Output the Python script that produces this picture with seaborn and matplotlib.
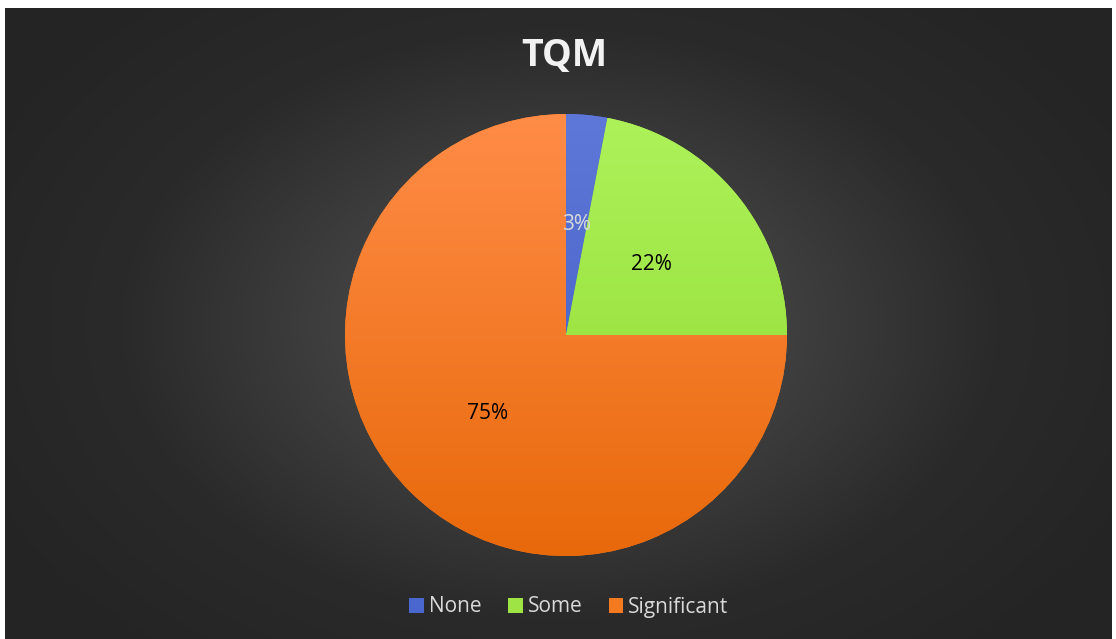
import numpy as np
import matplotlib
matplotlib.use('Agg')
import matplotlib.pyplot as plt
import seaborn as sns
from matplotlib.patches import Patch
from matplotlib.colors import LinearSegmentedColormap

sns.set_theme(style='white')
plt.rcParams['font.family'] = ['Open Sans', 'DejaVu Sans']

# data
categories = ['None', 'Some', 'Significant']
values = [3, 22, 75]
labels_pct = ['3%', '22%', '75%']
colors = ['#4A67CF', '#9DE444', '#F47A1F']
grad_top = ['#5D78D8', '#AEF25A', '#FF8C47']
grad_bot = ['#3F5AC0', '#8DD82E', '#E8690A']
label_colors = ['#D9D9D9', 'black', 'black']

W, H = 1116, 639
fig = plt.figure(figsize=(W / 100, H / 100), dpi=100)
fig.patch.set_facecolor('white')

# dark radial background
bg = fig.add_axes([5 / W, 0, 1107 / W, 631 / H])
yy, xx = np.mgrid[0:300, 0:540]
cx, cy = 270, 150
r = np.sqrt(((xx - cx) / 320) ** 2 + ((yy - cy) / 210) ** 2)
r = np.clip(r, 0, 1)
cmap_bg = LinearSegmentedColormap.from_list('bg', ['#4C4C4C', '#404040', '#2A2A2A', '#242424'])
bg.imshow(r, cmap=cmap_bg, aspect='auto', extent=[0, 1, 0, 1], vmin=0, vmax=1)
bg.set_axis_off()

# pie
r_px = 221
cx_px, cy_px = 566, 639 - 335
ax = fig.add_axes([(cx_px - r_px) / W, (cy_px - r_px) / H, 2 * r_px / W, 2 * r_px / H])
ax.set_facecolor('none')
wedges, texts, autotexts = ax.pie(values, colors=colors, startangle=90, counterclock=False,
                                  autopct='%1.0f%%', pctdistance=0.5,
                                  wedgeprops=dict(linewidth=0),
                                  textprops=dict(fontsize=15))
ax.set_xlim(-1, 1)
ax.set_ylim(-1, 1)
ax.set_aspect('equal')
ax.set_axis_off()

for w, t, b in zip(wedges, grad_top, grad_bot):
    cm = LinearSegmentedColormap.from_list('g', [b, t])
    g = np.linspace(0, 1, 256).reshape(-1, 1)
    im = ax.imshow(g, cmap=cm, origin='lower', extent=[-1, 1, -1, 1], aspect='auto', zorder=w.get_zorder() + 0.1)
    im.set_clip_path(w)

for at, txt, c in zip(autotexts, labels_pct, label_colors):
    at.set_text(txt)
    at.set_color(c)
    at.set_zorder(5)

fig.text(564 / W, 1 - 56 / H, 'TQM', ha='center', va='center', fontsize=27,
         fontweight='bold', color='#F2F2F2')

handles = [Patch(facecolor=c, edgecolor='none') for c in colors]
leg = fig.legend(handles, categories, loc='center', bbox_to_anchor=(569 / W, 1 - 607 / H),
                 ncol=3, frameon=False, fontsize=15, handlelength=0.7, handleheight=0.7,
                 handletextpad=0.25, columnspacing=1.25)
for t in leg.get_texts():
    t.set_color('#D9D9D9')

fig.savefig('out.png', dpi=100)
